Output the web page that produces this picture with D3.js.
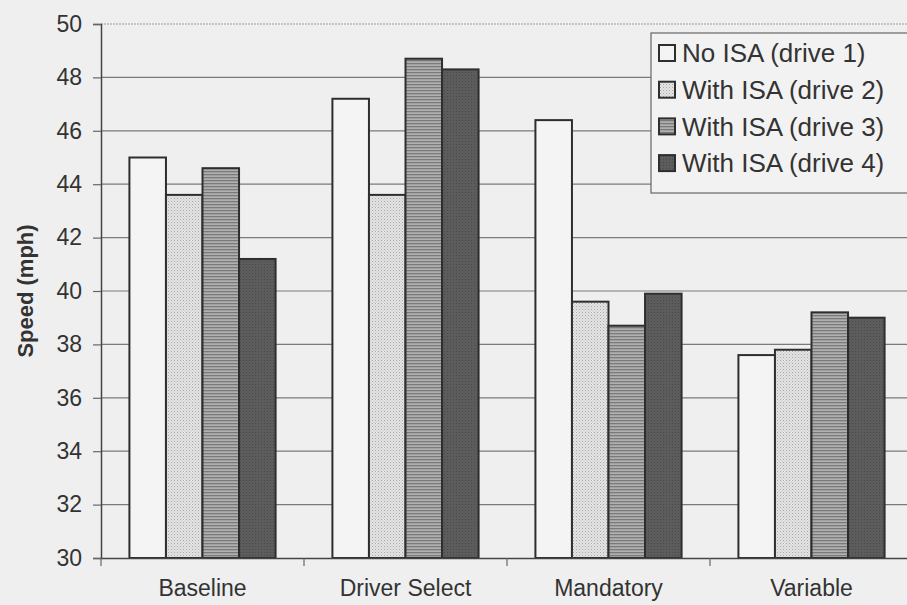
<!DOCTYPE html>
<html><head><meta charset="utf-8">
<script src="https://cdn.jsdelivr.net/npm/d3@7"></script>
<style>body{margin:0;background:#efefef}svg{display:block}</style>
</head><body>
<script>
const categories = ["Baseline", "Driver Select", "Mandatory", "Variable"];
const seriesNames = ["No ISA (drive 1)", "With ISA (drive 2)", "With ISA (drive 3)", "With ISA (drive 4)"];
const drive1 = [45.0, 47.2, 46.4, 37.6];
const drive2 = [43.6, 43.6, 39.6, 37.8];
const drive3 = [44.6, 48.7, 38.7, 39.2];
const drive4 = [41.2, 48.3, 39.9, 39.0];
const yTicks = [30, 32, 34, 36, 38, 40, 42, 44, 46, 48, 50];

const series = [drive1, drive2, drive3, drive4];
const W = 907, H = 605;
const m = {left: 101, top: 24, right: -6, bottom: 47};
const FONT = "Liberation Sans, Arial, Helvetica, sans-serif";
const svg = d3.select("body").append("svg").attr("width", W).attr("height", H);
svg.append("rect").attr("width", W).attr("height", H).attr("fill", "#efefef");

const defs = svg.append("defs");
const p2 = defs.append("pattern").attr("id", "dots").attr("patternUnits", "userSpaceOnUse").attr("width", 3).attr("height", 3);
p2.append("rect").attr("width", 3).attr("height", 3).attr("fill", "#e4e4e4");
p2.append("rect").attr("width", 1).attr("height", 1).attr("fill", "#a8a8a8");
p2.append("rect").attr("x", 1.5).attr("y", 1.5).attr("width", 1).attr("height", 1).attr("fill", "#bcbcbc");
const p3 = defs.append("pattern").attr("id", "lines").attr("patternUnits", "userSpaceOnUse").attr("width", 4).attr("height", 3);
p3.append("rect").attr("width", 4).attr("height", 3).attr("fill", "#b0b0b0");
p3.append("rect").attr("width", 4).attr("height", 1.3).attr("fill", "#7a7a7a");
const p4 = defs.append("pattern").attr("id", "dark").attr("patternUnits", "userSpaceOnUse").attr("width", 3).attr("height", 3);
p4.append("rect").attr("width", 3).attr("height", 3).attr("fill", "#5c5c5c");
p4.append("rect").attr("width", 1).attr("height", 1).attr("fill", "#4a4a4a");
const fills = ["#f4f4f4", "url(#dots)", "url(#lines)", "url(#dark)"];

const x0 = d3.scaleBand().domain(categories).range([m.left, W - m.right]).paddingInner(0.28).paddingOuter(0.14);
const x1 = d3.scaleBand().domain(d3.range(4)).range([0, x0.bandwidth()]);
const y = d3.scaleLinear().domain([30, 50]).range([H - m.bottom, m.top]);
const outer = d3.scaleBand().domain(categories).range([m.left, W - m.right]);

// gridlines
svg.append("g").selectAll("line").data(yTicks.slice(1, -1)).join("line")
  .attr("x1", m.left).attr("x2", W).attr("y1", d => y(d)).attr("y2", d => y(d))
  .attr("stroke", "#7a7a7a").attr("stroke-width", 1.2);
svg.append("line").attr("x1", m.left).attr("x2", W).attr("y1", y(50)).attr("y2", y(50))
  .attr("stroke", "#9a9a9a").attr("stroke-width", 1).attr("stroke-dasharray", "2,1");

// bars
const g = svg.append("g");
categories.forEach((c, ci) => {
  series.forEach((s, si) => {
    g.append("rect")
      .attr("x", x0(c) + x1(si)).attr("width", x1.bandwidth())
      .attr("y", y(s[ci])).attr("height", y(30) - y(s[ci]))
      .attr("fill", fills[si]).attr("stroke", "#2e2e2e").attr("stroke-width", 2);
  });
});

// axes
const yAxis = svg.append("g").attr("transform", `translate(${m.left},0)`)
  .call(d3.axisLeft(y).tickValues(yTicks).tickSize(8).tickPadding(11));
yAxis.select(".domain").attr("stroke", "#444").attr("stroke-width", 1.5);
yAxis.selectAll(".tick line").attr("stroke", "#666").attr("stroke-width", 1.2);
yAxis.selectAll("text").attr("font-family", FONT).attr("font-size", 23).attr("fill", "#333");

const xAxis = svg.append("g").attr("transform", `translate(0,${y(30)})`)
  .call(d3.axisBottom(outer).tickSize(0).tickPadding(0));
xAxis.select(".domain").attr("stroke", "#444").attr("stroke-width", 1.5);
xAxis.selectAll("text").attr("font-family", FONT).attr("font-size", 23).attr("fill", "#333")
  .attr("dy", null).attr("y", 38);
svg.append("g").selectAll("line").data(categories).join("line")
  .attr("x1", d => outer(d)).attr("x2", d => outer(d))
  .attr("y1", y(30)).attr("y2", y(30) + 8).attr("stroke", "#666").attr("stroke-width", 1.2);

svg.append("text").attr("transform", `translate(33,${(y(30) + y(50)) / 2}) rotate(-90)`)
  .attr("text-anchor", "middle").attr("font-family", FONT)
  .attr("font-size", 22).attr("font-weight", "bold").attr("fill", "#333").text("Speed (mph)");

// legend
const lg = svg.append("g").attr("transform", "translate(651,33)");
lg.append("rect").attr("width", 270).attr("height", 160).attr("fill", "#f2f2f2").attr("stroke", "#666").attr("stroke-width", 1.2);
seriesNames.forEach((n, i) => {
  const yy = 20 + i * 36.7;
  lg.append("rect").attr("x", 8).attr("y", yy - 8).attr("width", 16).attr("height", 16)
    .attr("fill", fills[i]).attr("stroke", "#2e2e2e").attr("stroke-width", 2);
  lg.append("text").attr("x", 31).attr("y", yy).attr("dy", "0.36em")
    .attr("font-family", FONT).attr("font-size", 26).attr("fill", "#333").text(n);
});
</script>
</body></html>
